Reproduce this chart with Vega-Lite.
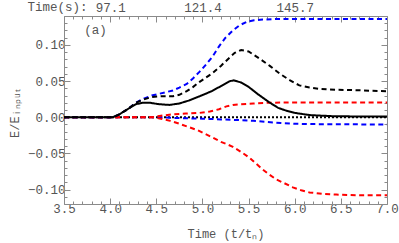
{
  "$schema": "https://vega.github.io/schema/vega-lite/v6.json",
  "width": 323,
  "height": 188,
  "autosize": "none",
  "padding": {"left": 64, "top": 16, "right": 12, "bottom": 39},
  "background": "white",
  "config": {
    "view": {"stroke": null},
    "font": "Liberation Mono",
    "text": {"font": "Liberation Mono"},
    "axis": {
      "labelColor": "#555555",
      "titleColor": "#555555",
      "domainColor": "#8a8a8a",
      "tickColor": "#8a8a8a",
      "labelFont": "Liberation Mono",
      "titleFont": "Liberation Mono",
      "labelFontSize": 12.5,
      "titleFontSize": 12,
      "titleFontWeight": "normal",
      "grid": false
    }
  },
  "data": {
    "values": [
      {"series": "zero", "t": 3.5, "v": 0},
      {"series": "zero", "t": 7.0, "v": 0},

      {"series": "blue_bottom", "t": 3.5, "v": 0},
      {"series": "blue_bottom", "t": 4.5, "v": 0},
      {"series": "blue_bottom", "t": 4.7, "v": -0.001},
      {"series": "blue_bottom", "t": 5.0, "v": -0.002},
      {"series": "blue_bottom", "t": 5.2, "v": -0.003},
      {"series": "blue_bottom", "t": 5.4, "v": -0.004},
      {"series": "blue_bottom", "t": 5.55, "v": -0.005},
      {"series": "blue_bottom", "t": 5.7, "v": -0.0065},
      {"series": "blue_bottom", "t": 5.85, "v": -0.008},
      {"series": "blue_bottom", "t": 6.0, "v": -0.009},
      {"series": "blue_bottom", "t": 6.2, "v": -0.0095},
      {"series": "blue_bottom", "t": 6.5, "v": -0.0098},
      {"series": "blue_bottom", "t": 7.0, "v": -0.01},

      {"series": "red_bottom", "t": 3.5, "v": 0},
      {"series": "red_bottom", "t": 4.45, "v": 0},
      {"series": "red_bottom", "t": 4.55, "v": -0.002},
      {"series": "red_bottom", "t": 4.65, "v": -0.005},
      {"series": "red_bottom", "t": 4.75, "v": -0.009},
      {"series": "red_bottom", "t": 4.86, "v": -0.014},
      {"series": "red_bottom", "t": 4.95, "v": -0.018},
      {"series": "red_bottom", "t": 5.03, "v": -0.023},
      {"series": "red_bottom", "t": 5.11, "v": -0.028},
      {"series": "red_bottom", "t": 5.2, "v": -0.034},
      {"series": "red_bottom", "t": 5.26, "v": -0.037},
      {"series": "red_bottom", "t": 5.33, "v": -0.041},
      {"series": "red_bottom", "t": 5.42, "v": -0.048},
      {"series": "red_bottom", "t": 5.51, "v": -0.056},
      {"series": "red_bottom", "t": 5.58, "v": -0.064},
      {"series": "red_bottom", "t": 5.65, "v": -0.072},
      {"series": "red_bottom", "t": 5.72, "v": -0.079},
      {"series": "red_bottom", "t": 5.8, "v": -0.086},
      {"series": "red_bottom", "t": 5.9, "v": -0.092},
      {"series": "red_bottom", "t": 5.98, "v": -0.097},
      {"series": "red_bottom", "t": 6.07, "v": -0.101},
      {"series": "red_bottom", "t": 6.16, "v": -0.104},
      {"series": "red_bottom", "t": 6.3, "v": -0.106},
      {"series": "red_bottom", "t": 6.45, "v": -0.107},
      {"series": "red_bottom", "t": 6.7, "v": -0.108},
      {"series": "red_bottom", "t": 7.0, "v": -0.108},

      {"series": "red_top", "t": 3.5, "v": 0},
      {"series": "red_top", "t": 4.45, "v": 0},
      {"series": "red_top", "t": 4.55, "v": 0.002},
      {"series": "red_top", "t": 4.68, "v": 0.004},
      {"series": "red_top", "t": 4.82, "v": 0.005},
      {"series": "red_top", "t": 4.97, "v": 0.006},
      {"series": "red_top", "t": 5.08, "v": 0.008},
      {"series": "red_top", "t": 5.18, "v": 0.011},
      {"series": "red_top", "t": 5.26, "v": 0.015},
      {"series": "red_top", "t": 5.33, "v": 0.017},
      {"series": "red_top", "t": 5.42, "v": 0.018},
      {"series": "red_top", "t": 5.55, "v": 0.019},
      {"series": "red_top", "t": 5.72, "v": 0.020},
      {"series": "red_top", "t": 6.0, "v": 0.0205},
      {"series": "red_top", "t": 7.0, "v": 0.0205},

      {"series": "blue_top", "t": 3.5, "v": 0},
      {"series": "blue_top", "t": 4.03, "v": 0},
      {"series": "blue_top", "t": 4.1, "v": 0.004},
      {"series": "blue_top", "t": 4.2, "v": 0.012},
      {"series": "blue_top", "t": 4.28, "v": 0.02},
      {"series": "blue_top", "t": 4.35, "v": 0.025},
      {"series": "blue_top", "t": 4.45, "v": 0.030},
      {"series": "blue_top", "t": 4.55, "v": 0.033},
      {"series": "blue_top", "t": 4.68, "v": 0.037},
      {"series": "blue_top", "t": 4.75, "v": 0.041},
      {"series": "blue_top", "t": 4.83, "v": 0.046},
      {"series": "blue_top", "t": 4.9, "v": 0.054},
      {"series": "blue_top", "t": 4.97, "v": 0.063},
      {"series": "blue_top", "t": 5.04, "v": 0.073},
      {"series": "blue_top", "t": 5.11, "v": 0.084},
      {"series": "blue_top", "t": 5.18, "v": 0.098},
      {"series": "blue_top", "t": 5.25, "v": 0.110},
      {"series": "blue_top", "t": 5.33, "v": 0.120},
      {"series": "blue_top", "t": 5.4, "v": 0.127},
      {"series": "blue_top", "t": 5.48, "v": 0.132},
      {"series": "blue_top", "t": 5.56, "v": 0.134},
      {"series": "blue_top", "t": 5.65, "v": 0.135},
      {"series": "blue_top", "t": 5.8, "v": 0.136},
      {"series": "blue_top", "t": 7.0, "v": 0.136},

      {"series": "black_dash", "t": 3.5, "v": 0},
      {"series": "black_dash", "t": 4.03, "v": 0},
      {"series": "black_dash", "t": 4.1, "v": 0.004},
      {"series": "black_dash", "t": 4.2, "v": 0.012},
      {"series": "black_dash", "t": 4.28, "v": 0.02},
      {"series": "black_dash", "t": 4.35, "v": 0.024},
      {"series": "black_dash", "t": 4.45, "v": 0.028},
      {"series": "black_dash", "t": 4.55, "v": 0.029},
      {"series": "black_dash", "t": 4.68, "v": 0.029},
      {"series": "black_dash", "t": 4.75, "v": 0.031},
      {"series": "black_dash", "t": 4.83, "v": 0.036},
      {"series": "black_dash", "t": 4.9, "v": 0.042},
      {"series": "black_dash", "t": 4.97, "v": 0.049},
      {"series": "black_dash", "t": 5.04, "v": 0.055},
      {"series": "black_dash", "t": 5.11, "v": 0.061},
      {"series": "black_dash", "t": 5.2, "v": 0.071},
      {"series": "black_dash", "t": 5.29, "v": 0.082},
      {"series": "black_dash", "t": 5.35, "v": 0.089},
      {"series": "black_dash", "t": 5.42, "v": 0.093},
      {"series": "black_dash", "t": 5.5, "v": 0.091},
      {"series": "black_dash", "t": 5.62, "v": 0.081},
      {"series": "black_dash", "t": 5.73, "v": 0.071},
      {"series": "black_dash", "t": 5.84, "v": 0.060},
      {"series": "black_dash", "t": 5.95, "v": 0.051},
      {"series": "black_dash", "t": 6.05, "v": 0.044},
      {"series": "black_dash", "t": 6.16, "v": 0.041},
      {"series": "black_dash", "t": 6.27, "v": 0.039},
      {"series": "black_dash", "t": 6.45, "v": 0.038},
      {"series": "black_dash", "t": 6.63, "v": 0.0375},
      {"series": "black_dash", "t": 7.0, "v": 0.036},

      {"series": "black_solid", "t": 3.5, "v": 0},
      {"series": "black_solid", "t": 4.03, "v": 0},
      {"series": "black_solid", "t": 4.1, "v": 0.004},
      {"series": "black_solid", "t": 4.2, "v": 0.012},
      {"series": "black_solid", "t": 4.28, "v": 0.018},
      {"series": "black_solid", "t": 4.35, "v": 0.020},
      {"series": "black_solid", "t": 4.43, "v": 0.020},
      {"series": "black_solid", "t": 4.53, "v": 0.018},
      {"series": "black_solid", "t": 4.64, "v": 0.017},
      {"series": "black_solid", "t": 4.75, "v": 0.019},
      {"series": "black_solid", "t": 4.85, "v": 0.023},
      {"series": "black_solid", "t": 4.97, "v": 0.029},
      {"series": "black_solid", "t": 5.1, "v": 0.036},
      {"series": "black_solid", "t": 5.2, "v": 0.043},
      {"series": "black_solid", "t": 5.3, "v": 0.050},
      {"series": "black_solid", "t": 5.34, "v": 0.051},
      {"series": "black_solid", "t": 5.42, "v": 0.048},
      {"series": "black_solid", "t": 5.5, "v": 0.042},
      {"series": "black_solid", "t": 5.6, "v": 0.032},
      {"series": "black_solid", "t": 5.72, "v": 0.021},
      {"series": "black_solid", "t": 5.82, "v": 0.013},
      {"series": "black_solid", "t": 5.91, "v": 0.009},
      {"series": "black_solid", "t": 6.0, "v": 0.006},
      {"series": "black_solid", "t": 6.16, "v": 0.003},
      {"series": "black_solid", "t": 6.4, "v": 0.0015},
      {"series": "black_solid", "t": 6.7, "v": 0.001},
      {"series": "black_solid", "t": 7.0, "v": 0.001}
    ]
  },
  "layer": [
    {
      "transform": [{"filter": "datum.series === 'zero'"}],
      "mark": {"type": "line", "color": "black", "strokeDash": [2, 2], "strokeWidth": 2},
      "encoding": {
        "x": {
          "field": "t", "type": "quantitative",
          "scale": {"domain": [3.5, 7.0], "nice": false, "zero": false},
          "axis": {
            "orient": "top",
            "values": [3.5,3.6,3.7,3.8,3.9,4.0,4.1,4.2,4.3,4.4,4.5,4.6,4.7,4.8,4.9,5.0,5.1,5.2,5.3,5.4,5.5,5.6,5.7,5.8,5.9,6.0,6.1,6.2,6.3,6.4,6.5,6.6,6.7,6.8,6.9,7.0],
            "labelExpr": "abs(datum.value-4)<0.001 ? '97.1' : abs(datum.value-5)<0.001 ? '121.4' : abs(datum.value-6)<0.001 ? '145.7' : ''",
            "tickSize": {"condition": {"test": "abs(datum.value*2 - round(datum.value*2)) < 0.001", "value": -6}, "value": -3},
            "labelFont": "Liberation Mono",
            "labelFontSize": 12.5,
            "labelPadding": 8,
            "labelFlush": false,
            "labelOverlap": false,
            "labelBound": false,
            "title": null
          }
        },
        "y": {
          "field": "v", "type": "quantitative",
          "scale": {"domain": [-0.12, 0.14], "nice": false, "zero": false},
          "axis": {
            "orient": "right",
            "values": [-0.12,-0.11,-0.1,-0.09,-0.08,-0.07,-0.06,-0.05,-0.04,-0.03,-0.02,-0.01,0,0.01,0.02,0.03,0.04,0.05,0.06,0.07,0.08,0.09,0.1,0.11,0.12,0.13,0.14],
            "labels": false,
            "title": null,
            "tickSize": {"condition": {"test": "abs(datum.value*20 - round(datum.value*20)) < 0.001", "value": -6}, "value": -3}
          }
        }
      }
    },
    {
      "transform": [{"filter": "datum.series !== 'zero'"}],
      "mark": {"type": "line", "strokeWidth": 2},
      "encoding": {
        "x": {
          "field": "t", "type": "quantitative",
          "scale": {"domain": [3.5, 7.0], "nice": false, "zero": false},
          "axis": {
            "orient": "bottom",
            "values": [3.5,3.6,3.7,3.8,3.9,4.0,4.1,4.2,4.3,4.4,4.5,4.6,4.7,4.8,4.9,5.0,5.1,5.2,5.3,5.4,5.5,5.6,5.7,5.8,5.9,6.0,6.1,6.2,6.3,6.4,6.5,6.6,6.7,6.8,6.9,7.0],
            "labelExpr": "abs(datum.value*2 - round(datum.value*2)) < 0.001 ? format(datum.value, '.1f') : ''",
            "tickSize": {"condition": {"test": "abs(datum.value*2 - round(datum.value*2)) < 0.001", "value": -6}, "value": -3},
            "labelFont": "Liberation Mono",
            "labelFontSize": 12.5,
            "labelPadding": 4,
            "labelFlush": false,
            "labelOverlap": false,
            "labelBound": false,
            "title": "Time (t/tₙ)",
            "titleFont": "Liberation Mono",
            "titleFontWeight": "normal",
            "titleY": 29,
            "titleBaseline": "middle"
          }
        },
        "y": {
          "field": "v", "type": "quantitative",
          "scale": {"domain": [-0.12, 0.14], "nice": false, "zero": false},
          "axis": {
            "orient": "left",
            "values": [-0.12,-0.11,-0.1,-0.09,-0.08,-0.07,-0.06,-0.05,-0.04,-0.03,-0.02,-0.01,0,0.01,0.02,0.03,0.04,0.05,0.06,0.07,0.08,0.09,0.1,0.11,0.12,0.13,0.14],
            "labelExpr": "abs(datum.value*20 - round(datum.value*20)) < 0.001 ? format(datum.value, '.2f') : ''",
            "tickSize": {"condition": {"test": "abs(datum.value*20 - round(datum.value*20)) < 0.001", "value": -6}, "value": -3},
            "labelFont": "Liberation Mono",
            "labelFontSize": 12.5,
            "labelPadding": 5,
            "labelOverlap": false,
            "labelFlush": false,
            "labelBound": false,
            "title": "E/Eᵢₙₚᵤₜ",
            "titleFont": "Liberation Mono",
            "titleFontWeight": "normal",
            "titleX": -50,
            "titleY": 97,
            "titleAngle": -90,
            "titleAlign": "center",
            "titleBaseline": "middle"
          }
        },
        "color": {
          "field": "series", "type": "nominal", "legend": null,
          "scale": {
            "domain": ["blue_bottom", "red_bottom", "red_top", "blue_top", "black_dash", "black_solid"],
            "range": ["#0000ff", "#ff0000", "#ff0000", "#0000ff", "#000000", "#000000"]
          }
        },
        "strokeDash": {
          "field": "series", "type": "nominal", "legend": null,
          "scale": {
            "domain": ["blue_bottom", "red_bottom", "red_top", "blue_top", "black_dash", "black_solid"],
            "range": [[5, 3.5], [5, 3.5], [5, 3.5], [5, 3.5], [5, 3.5], [1, 0]]
          }
        }
      }
    },
    {
      "data": {"values": [{"label": "(a)"}]},
      "mark": {"type": "text", "font": "Liberation Mono", "fontSize": 12.5, "color": "#555555", "align": "left", "baseline": "middle"},
      "encoding": {
        "x": {"datum": 3.72, "type": "quantitative", "axis": null},
        "y": {"datum": 0.121, "type": "quantitative", "axis": null},
        "text": {"field": "label"}
      }
    },
    {
      "data": {"values": [{"label": "Time(s):"}]},
      "mark": {"type": "text", "font": "Liberation Mono", "fontSize": 12.5, "color": "#555555", "align": "left", "baseline": "middle"},
      "encoding": {
        "x": {"datum": 3.105, "type": "quantitative", "axis": null},
        "y": {"datum": 0.152, "type": "quantitative", "axis": null},
        "text": {"field": "label"}
      }
    }
  ]
}
